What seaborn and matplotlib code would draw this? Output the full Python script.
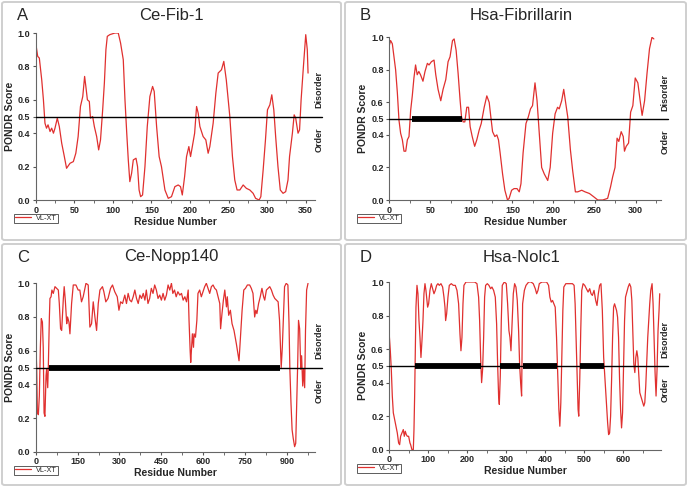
import matplotlib
matplotlib.use("Agg")
import matplotlib.pyplot as plt
import seaborn as sns
from matplotlib.patches import FancyBboxPatch
from matplotlib.lines import Line2D

# ---- data (residue, PONDR VL-XT score) ----
A_res = [0, 2.6, 4.7, 7.8, 10, 12, 14, 16, 18.6, 20.7, 23, 25, 28, 30.6, 33.7, 36.7, 40, 44.5, 48.8, 52,
         55, 58, 61, 63.4, 65, 67, 69.5, 71, 73.8, 76, 79, 81.6, 84, 86.8, 89, 91, 92.8, 96, 102.7, 107,
         110, 113.5, 115.7, 118, 120, 122, 124.3, 126.5, 130, 132, 134, 136, 138.5, 141.6, 144.6, 148,
         151.5, 153.6, 156.7, 160, 163, 167.5, 171.8, 176, 180.4, 184.7, 187.7, 190, 193, 195.5, 198.5,
         200.7, 203, 206, 208.5, 210.6, 212.8, 217, 220.5, 223.5, 225.7, 230, 233.5, 236.5, 240.8, 243.8,
         247, 251.6, 255, 258, 261, 264.6, 268.9, 273, 277.5, 281.8, 285, 289.6, 291.8, 294.8, 297.8,
         300.4, 303.5, 306, 308.6, 311, 314, 317, 320.6, 324, 327, 329, 332.7, 335, 337, 340, 342, 344,
         347, 350, 352, 353]
A_score = [0.94, 0.86, 0.85, 0.72, 0.60, 0.46, 0.43, 0.45, 0.41, 0.43, 0.40, 0.43, 0.49, 0.44, 0.34, 0.27,
           0.19, 0.22, 0.23, 0.28, 0.38, 0.56, 0.62, 0.74, 0.68, 0.60, 0.59, 0.49, 0.50, 0.44, 0.38, 0.30,
           0.36, 0.54, 0.70, 0.90, 0.98, 0.99, 1.0, 1.0, 0.94, 0.84, 0.60, 0.40, 0.24, 0.11, 0.16, 0.24,
           0.25, 0.20, 0.06, 0.02, 0.03, 0.20, 0.44, 0.62, 0.68, 0.65, 0.44, 0.26, 0.20, 0.06, 0.01, 0.02,
           0.08, 0.09, 0.08, 0.03, 0.14, 0.26, 0.32, 0.26, 0.32, 0.40, 0.56, 0.52, 0.44, 0.38, 0.36, 0.28,
           0.32, 0.46, 0.64, 0.76, 0.78, 0.83, 0.72, 0.50, 0.26, 0.12, 0.06, 0.06, 0.09, 0.07, 0.06, 0.04,
           0.01, 0.0, 0.02, 0.18, 0.36, 0.54, 0.57, 0.63, 0.54, 0.38, 0.20, 0.06, 0.04, 0.05, 0.12, 0.26,
           0.40, 0.51, 0.49, 0.40, 0.42, 0.60, 0.80, 0.99, 0.90, 0.76]

B_res = [0, 1.6, 3.7, 5.7, 7.7, 9.8, 11.8, 13.8, 15.9, 17.9, 20, 22, 24, 26, 28, 30, 32, 34, 36, 38, 41,
         43.5, 46.4, 48.4, 51.3, 54.5, 56.6, 59.4, 62.7, 65.5, 68.8, 71.6, 74, 77, 79, 81.4, 83.8, 86.3,
         88, 90, 92, 94.4, 96.5, 98.5, 101, 104, 106.6, 109.5, 112, 115.6, 118.8, 121.7, 123.7, 125.8,
         128.6, 131, 133, 135, 138, 140.8, 144, 146, 149, 152, 155.6, 158.3, 160.4, 163, 166.5, 169.3,
         172, 174.5, 177.5, 180, 182.7, 185.6, 188.8, 193, 196, 199, 202, 205, 207, 210, 212.5, 214.5,
         217.4, 220.6, 223.4, 226.7, 229.5, 234.4, 238.5, 243.8, 249, 254, 260, 266, 269.5, 272, 275,
         277.5, 279.6, 282.5, 285, 286.5, 288.6, 291.5, 294, 296.7, 299.6, 302.8, 305.6, 308, 311, 314,
         317, 320, 322.3]
B_score = [0.95, 0.98, 0.96, 0.88, 0.80, 0.66, 0.49, 0.41, 0.37, 0.30, 0.30, 0.37, 0.39, 0.55, 0.64, 0.75,
           0.83, 0.77, 0.79, 0.77, 0.73, 0.79, 0.84, 0.83, 0.85, 0.86, 0.77, 0.68, 0.61, 0.68, 0.74, 0.85,
           0.88, 0.98, 0.99, 0.92, 0.78, 0.61, 0.51, 0.48, 0.48, 0.57, 0.57, 0.45, 0.39, 0.33, 0.37, 0.43,
           0.47, 0.57, 0.64, 0.60, 0.51, 0.42, 0.39, 0.40, 0.37, 0.29, 0.16, 0.06, 0.0, 0.01, 0.06, 0.07,
           0.07, 0.05, 0.10, 0.29, 0.47, 0.51, 0.56, 0.58, 0.72, 0.61, 0.41, 0.20, 0.16, 0.12, 0.20, 0.41,
           0.53, 0.57, 0.56, 0.61, 0.68, 0.61, 0.51, 0.31, 0.18, 0.05, 0.05, 0.06, 0.05, 0.04, 0.02, 0.0,
           0.0, 0.01, 0.08, 0.14, 0.20, 0.38, 0.36, 0.42, 0.39, 0.30, 0.33, 0.35, 0.54, 0.58, 0.75, 0.72,
           0.61, 0.52, 0.61, 0.78, 0.93, 1.0, 0.99]

C_res = [0, 3.6, 6, 9.5, 13, 16.7, 20, 24, 27, 30, 33, 37, 39, 43, 45, 49, 51, 55, 58, 63, 69, 75, 81,
         84.5, 89, 93, 99, 102, 106, 111, 114, 119, 122.6, 128.5, 134.5, 144, 152, 158, 164, 170, 180,
         188, 194, 200, 206, 212, 218, 224, 230, 239, 244, 251, 259, 268, 275, 283, 292, 298, 304, 311,
         319, 325, 331, 337, 343, 349, 355, 361, 367, 373, 379, 385, 391, 396, 402, 408, 414, 420, 426,
         432, 438, 444, 450, 456, 462, 468, 474, 480, 486, 491, 497, 503, 509, 516, 522, 528, 534, 540,
         546, 549, 553, 555, 558, 561, 565, 567, 572, 577, 581, 587, 593, 599, 605, 611, 617, 623, 629,
         635, 641, 647, 653, 659, 662, 667, 672, 677, 683, 686, 691, 697, 703, 710, 718.5, 724, 728, 734,
         739, 745, 751, 758, 766, 772, 778, 784, 788, 792, 798, 804, 810, 816, 820, 826, 832, 838, 844,
         850, 856, 862, 868, 873, 877, 879, 883, 888, 891, 897, 903, 907, 910, 914, 918, 922, 927, 931,
         934, 938, 941, 945, 949, 952, 956, 959, 963, 966, 970, 975]
C_score = [0.67, 0.49, 0.23, 0.22, 0.33, 0.62, 0.79, 0.77, 0.62, 0.23, 0.21, 0.45, 0.49, 0.38, 0.49, 0.80,
           0.91, 0.92, 0.96, 0.94, 0.98, 0.97, 0.96, 0.88, 0.73, 0.72, 0.91, 0.98, 0.90, 0.76, 0.80, 0.77,
           0.70, 0.88, 0.99, 0.99, 0.96, 0.96, 0.89, 0.92, 1.0, 0.99, 0.74, 0.76, 0.89, 0.80, 0.72, 0.88,
           0.96, 0.98, 0.95, 0.89, 0.91, 0.97, 0.99, 0.95, 0.92, 0.84, 0.89, 0.88, 0.93, 0.88, 0.94, 0.90,
           0.89, 0.92, 0.96, 0.91, 0.88, 0.93, 0.91, 0.94, 0.90, 0.96, 0.88, 0.91, 0.97, 0.94, 0.99, 0.96,
           0.91, 0.93, 0.90, 0.94, 0.90, 0.93, 0.99, 0.96, 1.0, 0.94, 0.96, 0.92, 0.95, 0.93, 0.94, 0.90,
           0.92, 0.89, 0.96, 0.78, 0.60, 0.53, 0.62, 0.70, 0.62, 0.70, 0.68, 0.78, 0.94, 0.96, 0.92, 0.95,
           0.98, 1.0, 0.97, 0.94, 0.98, 0.99, 0.97, 0.96, 0.92, 0.88, 0.73, 0.82, 0.90, 0.96, 0.86, 0.92,
           0.81, 0.84, 0.76, 0.72, 0.64, 0.58, 0.54, 0.70, 0.84, 0.96, 0.97, 0.99, 0.99, 0.97, 0.94, 0.80,
           0.84, 0.82, 0.88, 0.92, 0.97, 0.92, 0.90, 0.96, 0.97, 0.98, 0.96, 0.93, 0.91, 0.90, 0.89, 0.78,
           0.60, 0.50, 0.62, 0.84, 0.98, 1.0, 0.99, 0.76, 0.49, 0.29, 0.13, 0.08, 0.03, 0.05, 0.25, 0.52,
           0.78, 0.73, 0.49, 0.57, 0.39, 0.49, 0.38, 0.72, 0.96, 1.0]

D_res = [0, 2.6, 5.1, 7.7, 10.3, 13.7, 17.1, 20.5, 23.9, 26.5, 29, 32.5, 35.9, 38.5, 41, 43.6, 46.2, 49.6,
         53, 54.7, 58.1, 61.6, 63.3, 65, 66.7, 68.4, 71, 73.5, 76.1, 78.7, 81.2, 83.8, 86.4, 88.9, 91.5,
         94, 98.3, 100.9, 104.3, 107.7, 111.2, 114.6, 118, 121.4, 124.8, 128.3, 132.5, 136.8, 140.2,
         142.8, 144.5, 147.1, 150.5, 153.9, 159, 164.2, 169.3, 173.6, 177.8, 181.3, 183.8, 186.4, 189,
         191.5, 196.7, 207.8, 218.9, 224.9, 229.1, 231.7, 234.3, 236.8, 239.4, 242, 244.5, 247.1, 251.4,
         255.6, 259.9, 263.3, 267.6, 271.9, 275.3, 277.9, 280.4, 282.2, 284.7, 287.3, 289.8, 295, 300.1,
         303.5, 306.9, 309.5, 312.1, 314.6, 318.1, 321.5, 324.9, 328.3, 331.7, 334.3, 336.9, 339.4,
         342, 346.5, 350.7, 357.5, 363.5, 369.4, 374.5, 378, 381.4, 384.8, 391.6, 397.5, 403.5, 408.6,
         412, 415.4, 418.8, 422.2, 425.6, 429, 432.4, 435, 437.5, 440, 442.6, 445.2, 447.7, 452.8, 461.4,
         469.9, 474.1, 476.7, 479.2, 481.8, 484.3, 486, 488.6, 491.1, 493.7, 497.1, 501.3, 505.6, 509.9,
         514.1, 517.5, 520.9, 525.2, 529.4, 532.8, 536.2, 539.6, 543, 546.5, 549.9, 553.3, 556.7, 560.1,
         562.6, 565.2, 567.7, 570.3, 572.8, 575.4, 577.9, 580.5, 583, 585.6, 588.1, 590.7, 593.3, 595.8,
         598.4, 600.9, 603.5, 606, 609.4, 612.8, 616.2, 619.6, 622.2, 624.7, 627.3, 629.9, 632.4, 635,
         637.5, 640.1, 642.6, 645.2, 647.7, 650.3, 652.8, 655.4, 657.9, 660.5, 663, 665.6, 668.1, 670.7,
         674.1, 676.7, 679.2, 681.8, 684.3, 686.9, 689.4, 692, 693.7]
D_score = [0.68, 0.59, 0.48, 0.32, 0.22, 0.18, 0.14, 0.10, 0.04, 0.03, 0.08, 0.10, 0.12, 0.08, 0.11, 0.09,
           0.08, 0.08, 0.04, 0.03, 0.0, 0.0, 0.12, 0.32, 0.57, 0.85, 0.98, 0.93, 0.77, 0.67, 0.55, 0.65,
           0.77, 0.93, 0.99, 0.95, 0.85, 0.87, 0.95, 0.99, 0.96, 0.93, 0.95, 0.98, 0.99, 0.98, 0.99, 0.97,
           0.91, 0.85, 0.77, 0.81, 0.91, 0.98, 0.99, 0.98, 0.98, 0.95, 0.87, 0.69, 0.59, 0.67, 0.87, 0.98,
           1.0, 1.0, 1.0, 0.99, 0.91, 0.77, 0.55, 0.40, 0.48, 0.67, 0.91, 0.98, 0.99, 0.98, 0.96, 0.97,
           0.95, 0.91, 0.75, 0.51, 0.32, 0.27, 0.44, 0.77, 0.98, 1.0, 0.99, 0.87, 0.71, 0.67, 0.59, 0.73,
           0.93, 0.99, 0.97, 0.89, 0.71, 0.51, 0.40, 0.32, 0.87, 0.95, 0.98, 1.0, 1.0, 0.99, 0.96, 0.93,
           0.95, 0.99, 1.0, 1.0, 1.0, 0.98, 0.91, 0.88, 0.89, 0.87, 0.85, 0.67, 0.42, 0.24, 0.14, 0.28,
           0.57, 0.83, 0.97, 0.99, 0.99, 0.99, 0.98, 0.87, 0.67, 0.44, 0.24, 0.20, 0.42, 0.71, 0.95, 0.99,
           0.98, 0.96, 0.94, 0.96, 0.93, 0.92, 0.95, 0.89, 0.86, 0.93, 0.98, 0.99, 0.83, 0.55, 0.42, 0.28,
           0.16, 0.09, 0.10, 0.20, 0.42, 0.67, 0.85, 0.87, 0.85, 0.83, 0.79, 0.67, 0.42, 0.24, 0.13, 0.22,
           0.48, 0.77, 0.91, 0.94, 0.97, 0.99, 0.97, 0.89, 0.71, 0.51, 0.46, 0.55, 0.59, 0.55, 0.44, 0.34,
           0.32, 0.30, 0.28, 0.26, 0.28, 0.38, 0.53, 0.67, 0.77, 0.87, 0.95, 0.99, 0.87, 0.67, 0.46, 0.32,
           0.48, 0.71, 0.83, 0.93]

# long disordered regions (black bars on the 0.5 line)
A_ldr = []
B_ldr = [(28, 88)]
C_ldr = [(48, 875)]
D_ldr = [(67, 234), (284, 336), (344, 431), (488, 552)]

titles = ["Ce-Fib-1", "Hsa-Fibrillarin", "Ce-Nopp140", "Hsa-Nolc1"]
letters = ["A", "B", "C", "D"]
x_major = [50, 50, 150, 100]
x_max = [362, 331, 1000, 697]
y_ticks = [0.0, 0.2, 0.4, 0.5, 0.6, 0.8, 1.0]
y_ticklabels = ["0.0", "0.2", "0.4", "0.5", "0.6", "0.8", "1.0"]

sns.set_theme(style="ticks")
plt.rcParams["font.family"] = ["Liberation Sans", "DejaVu Sans"]

W, H = 688, 487
fig = plt.figure(figsize=(W / 100, H / 100), dpi=100)
fig.patch.set_facecolor("white")

# panel frames (pixels: x0, y0, x1, y1 measured from top-left)
frames = [(2, 2, 341, 240), (345, 2, 686, 240), (2, 244, 341, 485), (345, 244, 686, 485)]
# axes boxes in pixels (left, top, right, bottom)
boxes = [(35.7, 33, 315, 200), (389.3, 37.3, 661, 200), (35.7, 283.3, 315, 451.7), (389.3, 282, 661, 449.7)]

RED = "#e0302f"
panels = [(A_res, A_score, A_ldr), (B_res, B_score, B_ldr), (C_res, C_score, C_ldr), (D_res, D_score, D_ldr)]

for i, (res, score, ldr) in enumerate(panels):
    fx0, fy0, fx1, fy1 = frames[i]
    fig.patches.append(FancyBboxPatch((fx0 / W, 1 - fy1 / H), (fx1 - fx0) / W, (fy1 - fy0) / H,
                                      boxstyle="round,pad=0,rounding_size=0.004",
                                      transform=fig.transFigure, facecolor="none",
                                      edgecolor="#cfcfcf", lw=1.4, zorder=0))
    l, t, r, b = boxes[i]
    ax = fig.add_axes([l / W, 1 - b / H, (r - l) / W, (b - t) / H])
    ax.set_facecolor("none")

    sns.lineplot(x=res, y=score, ax=ax, color=RED, lw=0.9, sort=False, estimator=None, legend=False)

    ax.axhline(0.5, xmin=0, xmax=1.026, color="black", lw=1.0, clip_on=False, zorder=3)
    for s, e in ldr:
        ax.hlines(0.5, s, e, color="black", lw=4.2, zorder=4)

    ax.set_xlim(0, x_max[i])
    ax.set_ylim(0, 1.0)
    ax.set_xticks(range(0, int(x_max[i]) - 10, x_major[i]))
    ax.set_xticks([v + x_major[i] / 2 for v in range(0, int(x_max[i]) - x_major[i] // 2, x_major[i])], minor=True)
    ax.set_yticks(y_ticks)
    ax.set_yticklabels(y_ticklabels)
    ax.tick_params(axis="both", labelsize=6.5, length=2.5, width=0.8, pad=1.5, color="#555555")
    ax.tick_params(axis="x", which="minor", length=1.8, width=0.6, color="#555555")
    for lab in ax.get_xticklabels() + ax.get_yticklabels():
        lab.set_fontweight("bold")
    for side in ["top", "right"]:
        ax.spines[side].set_visible(False)
    for side in ["left", "bottom"]:
        ax.spines[side].set_color("#666666")
        ax.spines[side].set_linewidth(0.8)

    ax.set_xlabel("Residue Number", fontsize=7.5, fontweight="bold", labelpad=1.5)
    ax.set_ylabel("PONDR Score", fontsize=7.5, fontweight="bold", labelpad=2)

    # Disorder / Order tags right of the axes
    ax.text(1.015, 0.66, "Disorder", transform=ax.transAxes, rotation=90, fontsize=6.5,
            fontweight="bold", ha="center", va="center")
    ax.text(1.015, 0.36, "Order", transform=ax.transAxes, rotation=90, fontsize=6.5,
            fontweight="bold", ha="center", va="center")

    # title and panel letter
    fig.text(((l + r) / 2 - 4) / W, 1 - (fy0 + 13) / H, titles[i], fontsize=12,
             ha="center", va="center")
    fig.text((fx0 + 15) / W, 1 - (fy0 + 13) / H, letters[i], fontsize=12, ha="left", va="center")

    # legend box under the axes at the left
    h = Line2D([], [], color=RED, lw=0.9)
    leg = fig.legend([h], ["VL-XT"], loc="center left",
                     bbox_to_anchor=((fx0 + 12) / W, 1 - (b + 18.5) / H), fontsize=5.3,
                     frameon=True, fancybox=False, handlelength=2.2, handletextpad=0.6,
                     borderpad=0.15, borderaxespad=0)
    leg.get_frame().set_edgecolor("#333333")
    leg.get_frame().set_linewidth(0.7)

fig.savefig("out.png", dpi=100, facecolor="white")
